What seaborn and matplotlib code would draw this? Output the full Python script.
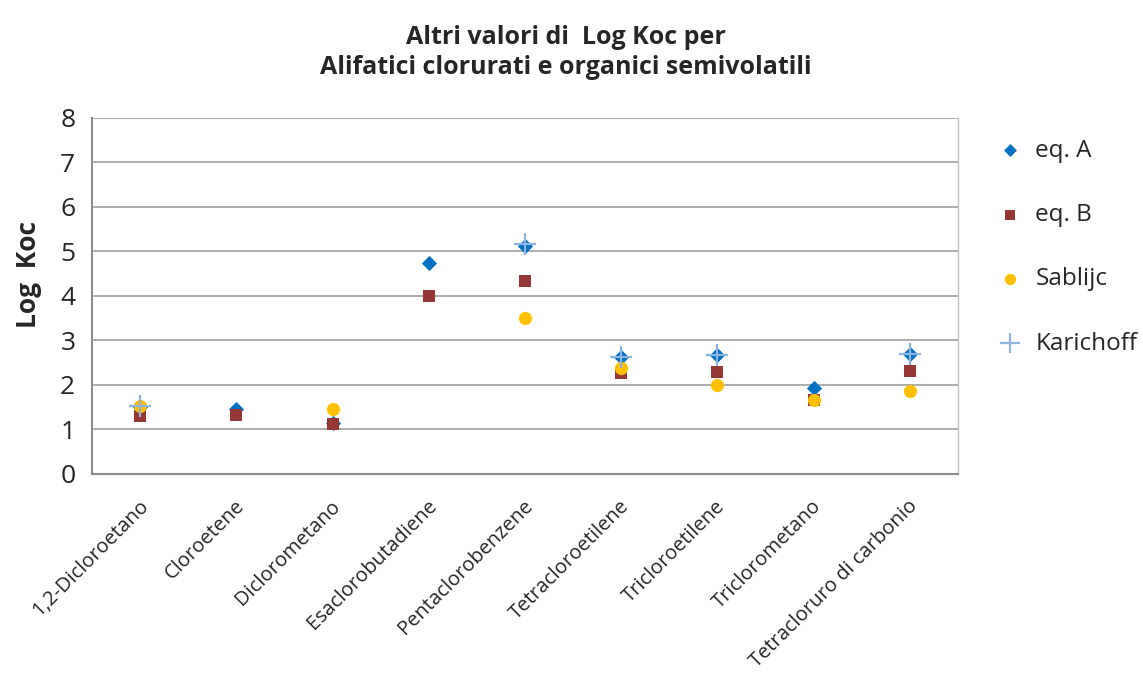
import matplotlib
matplotlib.use("Agg")
import matplotlib.pyplot as plt
import numpy as np
import pandas as pd
import seaborn as sns

categories = [
    "1,2-Dicloroetano",
    "Cloroetene",
    "Diclorometano",
    "Esaclorobutadiene",
    "Pentaclorobenzene",
    "Tetracloroetilene",
    "Tricloroetilene",
    "Triclorometano",
    "Tetracloruro di carbonio",
]
eq_a = [1.5, 1.47, 1.15, 4.73, 5.12, 2.62, 2.67, 1.93, 2.70]
eq_b = [1.30, 1.33, 1.12, 4.00, 4.33, 2.26, 2.30, 1.66, 2.31]
sablijc = [1.53, np.nan, 1.45, np.nan, 3.50, 2.39, 2.01, 1.66, 1.86]
karichoff = [1.53, np.nan, np.nan, np.nan, 5.17, 2.64, 2.67, np.nan, 2.70]

series = {
    "eq. A": eq_a,
    "eq. B": eq_b,
    "Sablijc": sablijc,
    "Karichoff": karichoff,
}
styles = {
    "eq. A": dict(marker="D", color="#0070C0", s=60, linewidth=0),
    "eq. B": dict(marker="s", color="#953735", s=85, linewidth=0),
    "Sablijc": dict(marker="o", color="#FFC000", s=90, linewidth=0),
    "Karichoff": dict(marker="+", color="#8EB4E3", s=260, linewidth=1.6),
}

sns.set_style("white")
plt.rcParams["font.family"] = ["Open Sans", "DejaVu Sans"]

fig = plt.figure(figsize=(11.43, 6.73), dpi=100)
ax = fig.add_axes([0.0805, 0.2957, 0.7575, 0.529])

pos = np.arange(len(categories))
for name, vals in series.items():
    df = pd.DataFrame({"x": pos, "y": vals}).dropna()
    sns.scatterplot(data=df, x="x", y="y", ax=ax, label=name, zorder=3, **styles[name])

ax.set_xlim(-0.5, len(categories) - 0.5)
ax.set_ylim(0, 8)
ax.set_yticks(range(0, 9))
ax.yaxis.grid(True, color="#A6A6A6", linewidth=1.3)
ax.set_axisbelow(True)
ax.set_xticks(pos - 0.02)
ax.set_xticklabels(categories, rotation=45, ha="right", rotation_mode="anchor", fontsize=14.5)
ax.tick_params(axis="y", labelsize=19, length=0, pad=12)
ax.tick_params(axis="x", length=0, pad=16)
ax.set_xlabel("")
ax.set_ylabel("Log  Koc", fontsize=19, fontweight="bold")
ax.yaxis.set_label_coords(-0.058, 0.56)
for side in ["left", "bottom"]:
    ax.spines[side].set_color("#8C8C8C")
    ax.spines[side].set_linewidth(1.5)
ax.spines["top"].set_visible(False)
ax.spines["right"].set_color("#BFBFBF")
ax.spines["right"].set_linewidth(1)

fig.text(0.495, 0.963, "Altri valori di  Log Koc per\nAlifatici clorurati e organici semivolatili",
         ha="center", va="top", fontsize=18, fontweight="bold", linespacing=1.25)

leg = ax.legend(loc="upper left", bbox_to_anchor=(1.018, 0.99), frameon=False,
                fontsize=17.5, labelspacing=1.66, handletextpad=0.25, borderaxespad=0.3,
                markerscale=0.85, handlelength=1.6)

fig.savefig("out.png", dpi=100)
